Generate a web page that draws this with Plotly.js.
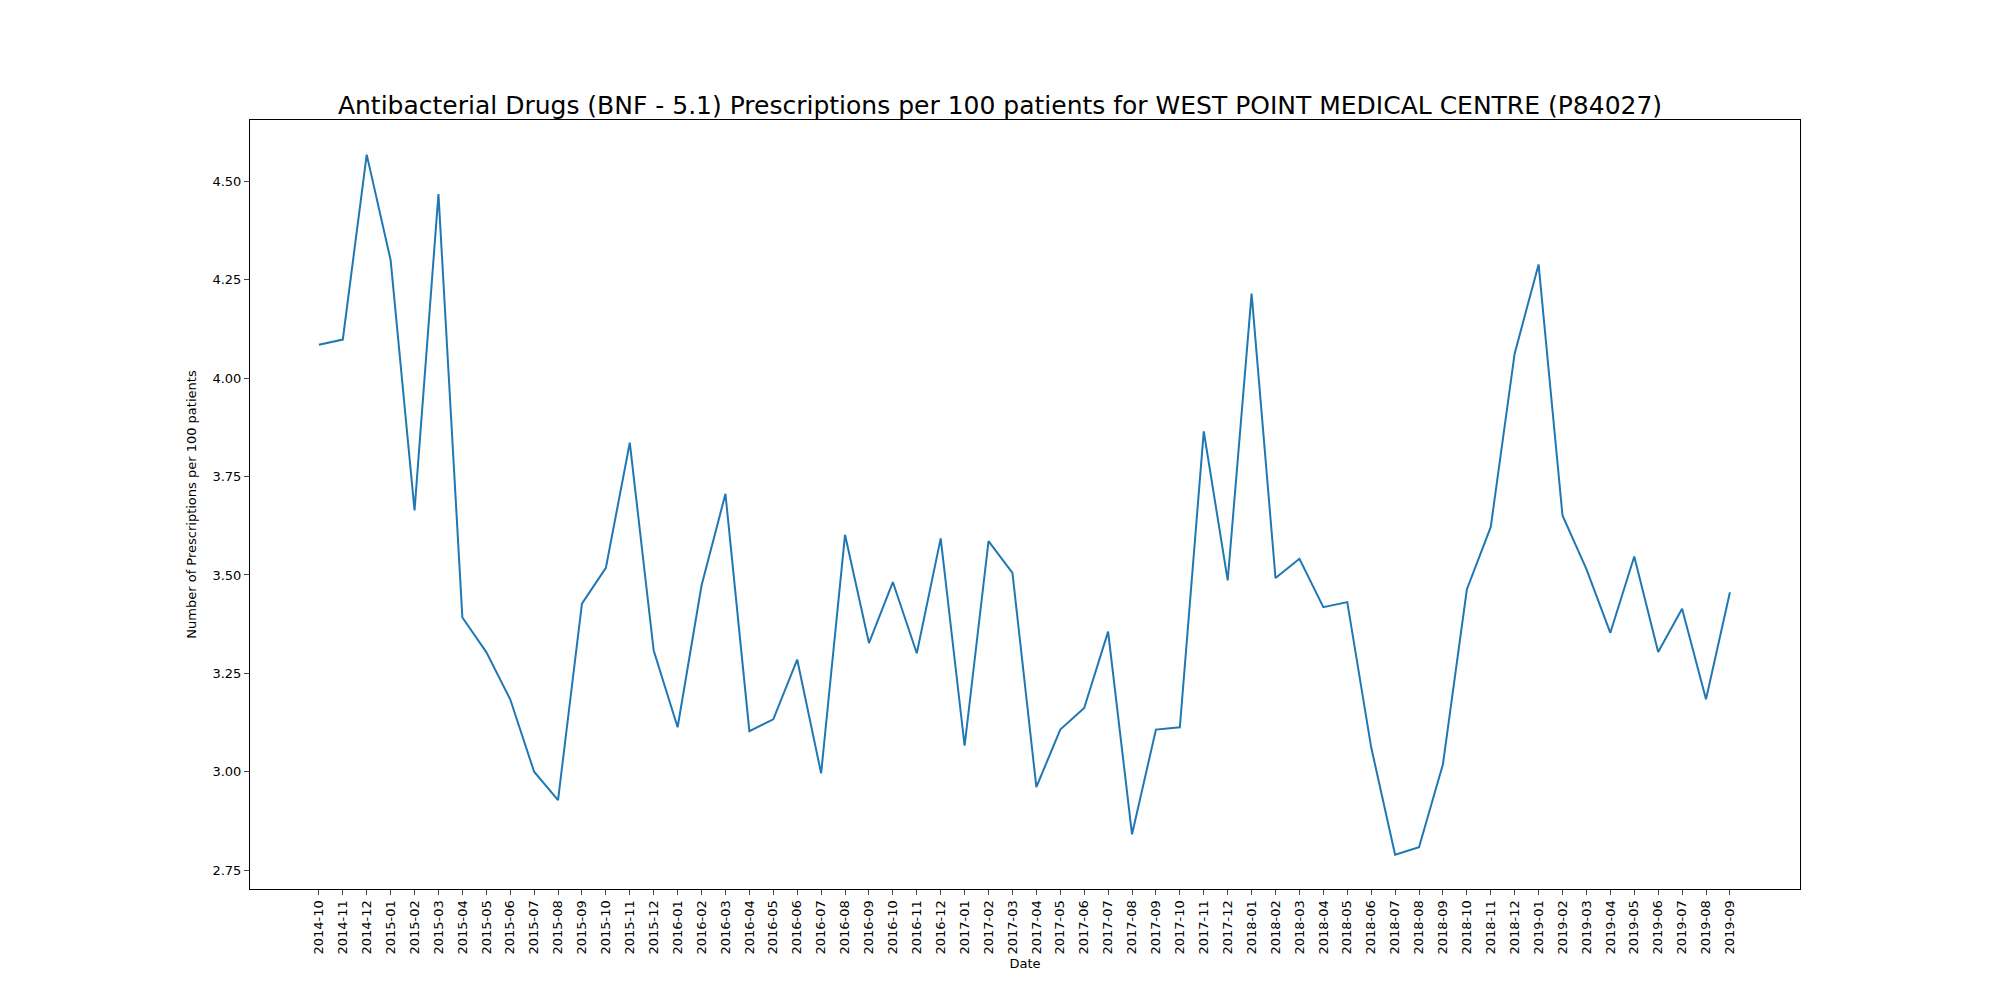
<!DOCTYPE html>
<html>
<head>
<meta charset="utf-8">
<script src="https://cdn.plot.ly/plotly-3.0.1.min.js"></script>
<style>html,body{margin:0;padding:0;background:#fff}</style>
</head>
<body>
<div id="plot" style="width:2000px;height:1000px"></div>
<script>
const months = [];
for (let y = 2014; y <= 2019; y++) {
  for (let m = 1; m <= 12; m++) {
    if ((y === 2014 && m < 10) || (y === 2019 && m > 9)) continue;
    months.push(y + "-" + String(m).padStart(2, "0"));
  }
}
const rates = [
  4.085, 4.098, 4.568, 4.30, 3.664, 4.468, 3.392, 3.304, 3.184, 3.0,
  2.928, 3.427, 3.518, 3.836, 3.308, 3.113, 3.473, 3.706, 3.103, 3.133,
  3.285, 2.996, 3.602, 3.327, 3.482, 3.301, 3.593, 3.066, 3.586, 3.505,
  2.961, 3.107, 3.162, 3.356, 2.841, 3.107, 3.113, 3.865, 3.486, 4.215,
  3.492, 3.541, 3.418, 3.431, 3.062, 2.789, 2.808, 3.019, 3.463, 3.622,
  4.063, 4.289, 3.651, 3.515, 3.353, 3.547, 3.304, 3.414, 3.184, 3.456
];

const trace = {
  x: months,
  y: rates,
  type: "scatter",
  mode: "lines",
  line: { color: "#1f77b4", width: 2 },
  hoverinfo: "x+y"
};

const layout = {
  width: 2000,
  height: 1000,
  margin: { l: 250, r: 200, t: 120, b: 111 },
  paper_bgcolor: "#fff",
  plot_bgcolor: "#fff",
  font: { family: "DejaVu Sans", color: "#000", size: 13 },
  title: {
    text: "Antibacterial Drugs (BNF - 5.1) Prescriptions per 100 patients for WEST POINT MEDICAL CENTRE (P84027)",
    font: { size: 25 },
    x: 0.5,
    xanchor: "center",
    y: 0.895,
    yanchor: "middle"
  },
  xaxis: {
    type: "category",
    range: [-2.88, 61.93],
    tickangle: -90,
    ticks: "outside",
    ticklen: 5,
    showgrid: false,
    zeroline: false,
    showline: true,
    mirror: true,
    linecolor: "#000",
    linewidth: 1,
    title: { text: "Date", font: { size: 13 }, standoff: 5 }
  },
  yaxis: {
    range: [2.702, 4.656],
    tickvals: [2.75, 3.0, 3.25, 3.5, 3.75, 4.0, 4.25, 4.5],
    ticktext: ["2.75", "3.00", "3.25", "3.50", "3.75", "4.00", "4.25", "4.50"],
    ticks: "outside",
    ticklen: 5,
    showgrid: false,
    zeroline: false,
    showline: true,
    mirror: true,
    linecolor: "#000",
    linewidth: 1,
    title: { text: "Number of Prescriptions per 100 patients", font: { size: 13 }, standoff: 12 }
  },
  showlegend: false
};

Plotly.newPlot("plot", [trace], layout, { displayModeBar: false });
</script>
</body>
</html>
